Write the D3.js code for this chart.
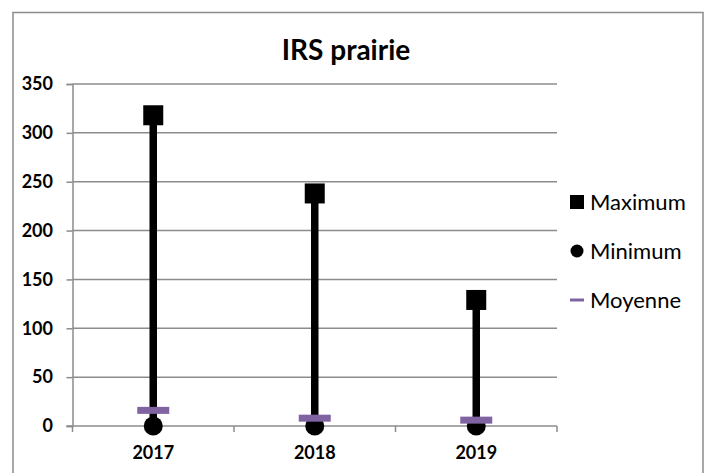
<!DOCTYPE html>
<html><head><meta charset="utf-8">
<script src="https://cdn.jsdelivr.net/npm/d3@7"></script>
<style>body{margin:0;background:#fff}svg{display:block}</style>
</head><body>
<svg id="c" width="711" height="473"></svg>
<script>
const categories = ["2017", "2018", "2019"];
const maximum = [318, 238, 129];
const minimum = [0, 0, 0];
const moyenne = [16, 8, 6];
const yTicks = [0, 50, 100, 150, 200, 250, 300, 350];
const title = "IRS prairie";
const legendLabels = ["Maximum", "Minimum", "Moyenne"];

const svg = d3.select("#c");
const font = "Lato, 'Open Sans', sans-serif";
const m = {left: 72.5, right: 557, top: 84, bottom: 426};

svg.append("rect").attr("x", 13).attr("y", 12.5).attr("width", 690).attr("height", 480)
  .attr("fill", "#fff").attr("stroke", "#8c8c8c").attr("stroke-width", 1.5);

const x = d3.scaleBand().domain(categories).range([m.left, m.right]).paddingInner(0).paddingOuter(0);
const y = d3.scaleLinear().domain([0, 350]).range([m.bottom, m.top]);

// gridlines
svg.append("g").selectAll("line").data(yTicks.filter(d => d > 0)).join("line")
  .attr("x1", m.left).attr("x2", m.right)
  .attr("y1", d => y(d)).attr("y2", d => y(d))
  .attr("stroke", "#8c8c8c").attr("stroke-width", 1.5);

// y axis
const yAxis = svg.append("g").attr("transform", `translate(${m.left},0)`)
  .call(d3.axisLeft(y).tickValues(yTicks).tickSize(6).tickPadding(13.5));
yAxis.select(".domain").attr("stroke", "#8c8c8c").attr("stroke-width", 1.5);
yAxis.selectAll(".tick line").attr("stroke", "#8c8c8c").attr("stroke-width", 1.5);
yAxis.selectAll("text").attr("font-family", font).attr("font-weight", "bold")
  .attr("font-size", 18).attr("fill", "#000");

// x axis
const xAxis = svg.append("g").attr("transform", `translate(0,${m.bottom})`)
  .call(d3.axisBottom(x).tickSize(0).tickPadding(20));
xAxis.select(".domain").remove();
svg.append("line").attr("x1", m.left - 6).attr("x2", m.right)
  .attr("y1", m.bottom).attr("y2", m.bottom).attr("stroke", "#8c8c8c").attr("stroke-width", 1.5);
const bounds = [m.left].concat(categories.map(c => x(c) + x.bandwidth()));
svg.append("g").selectAll("line").data(bounds).join("line")
  .attr("x1", d => d).attr("x2", d => d).attr("y1", m.bottom).attr("y2", m.bottom + 6)
  .attr("stroke", "#8c8c8c").attr("stroke-width", 1.5);
xAxis.selectAll("text").attr("font-family", font).attr("font-weight", "bold")
  .attr("font-size", 18).attr("fill", "#000");

const cx = c => x(c) + x.bandwidth() / 2;

// high-low lines
svg.append("g").selectAll("line").data(categories).join("line")
  .attr("x1", cx).attr("x2", cx)
  .attr("y1", (c, i) => y(minimum[i])).attr("y2", (c, i) => y(maximum[i]))
  .attr("stroke", "#000").attr("stroke-width", 7.5);

// min circles
svg.append("g").selectAll("circle").data(categories).join("circle")
  .attr("cx", cx).attr("cy", (c, i) => y(minimum[i])).attr("r", 9.5).attr("fill", "#000");

// max squares
svg.append("g").selectAll("rect").data(categories).join("rect")
  .attr("x", c => cx(c) - 10).attr("y", (c, i) => y(maximum[i]) - 10)
  .attr("width", 20).attr("height", 20).attr("fill", "#000");

// moyenne bars
svg.append("g").selectAll("rect").data(categories).join("rect")
  .attr("x", c => cx(c) - 16).attr("y", (c, i) => y(moyenne[i]) - 3.5)
  .attr("width", 32).attr("height", 7).attr("fill", "#8064a2");

// title
svg.append("text").attr("x", 346).attr("y", 60).attr("text-anchor", "middle")
  .attr("font-family", font).attr("font-weight", "bold").attr("font-size", 28)
  .attr("fill", "#000").text(title);

// legend
const ly = [202, 251, 300];
const lg = svg.append("g");
lg.append("rect").attr("x", 570).attr("y", ly[0] - 7).attr("width", 14).attr("height", 14).attr("fill", "#000");
lg.append("circle").attr("cx", 577).attr("cy", ly[1]).attr("r", 6.5).attr("fill", "#000");
lg.append("rect").attr("x", 570).attr("y", ly[2] - 1.5).attr("width", 14).attr("height", 3).attr("fill", "#8064a2");
lg.selectAll("text").data(legendLabels).join("text")
  .attr("x", 590).attr("y", (d, i) => ly[i]).attr("dy", "0.36em")
  .attr("font-family", font).attr("font-size", 22).attr("fill", "#000").text(d => d);
</script>
</body></html>
